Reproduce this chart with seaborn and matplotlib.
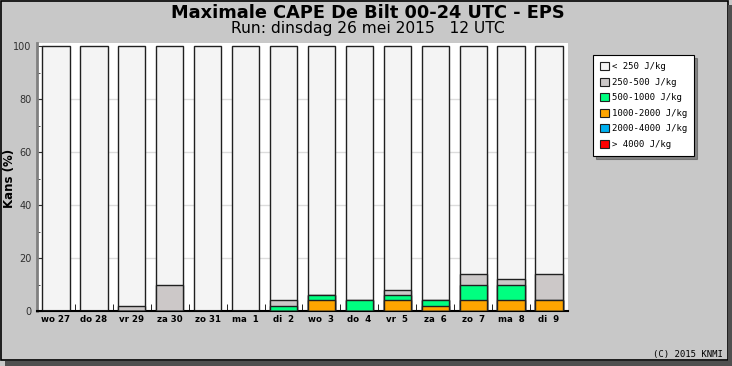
import numpy as np
import pandas as pd
import matplotlib
matplotlib.use('Agg')
import matplotlib.pyplot as plt
import seaborn as sns
from matplotlib.patches import Patch, Rectangle

# Chart data (kans in %, per dag)
days = ['wo 27', 'do 28', 'vr 29', 'za 30', 'zo 31', 'ma  1', 'di  2',
        'wo  3', 'do  4', 'vr  5', 'za  6', 'zo  7', 'ma  8', 'di  9']
cape_250_500 = [0, 0, 2, 10, 0, 0, 2, 0, 0, 2, 0, 4, 2, 10]
cape_500_1000 = [0, 0, 0, 0, 0, 0, 2, 2, 4, 2, 2, 6, 6, 0]
cape_1000_2000 = [0, 0, 0, 0, 0, 0, 0, 4, 0, 4, 2, 4, 4, 4]
cape_2000_4000 = [0] * 14
cape_4000 = [0] * 14
cape_lt250 = [100 - a - b - c - d - e for a, b, c, d, e in
              zip(cape_250_500, cape_500_1000, cape_1000_2000, cape_2000_4000, cape_4000)]

labels = ['< 250 J/kg', '250-500 J/kg', '500-1000 J/kg',
          '1000-2000 J/kg', '2000-4000 J/kg', '> 4000 J/kg']
colors = ['#f4f4f4', '#ccc8c8', '#00ff80', '#ffa500', '#00b0f0', '#ff0000']

# stacked: draw cumulative totals from top layer down
layers = [cape_lt250, cape_250_500, cape_500_1000, cape_1000_2000, cape_2000_4000, cape_4000]
df = pd.DataFrame({'dag': days})
for i in range(len(layers)):
    df[f'cum{i}'] = np.sum(np.array(layers[i:]), axis=0)

bg = '#c8c8c8'
fig = plt.figure(figsize=(7.32, 3.66), dpi=100, facecolor=bg)
ax = fig.add_axes([37 / 732, 1 - 311 / 366, 531 / 732, 268 / 366])
ax.set_facecolor('white')

for y in [20, 40, 60, 80]:
    ax.axhline(y, color='#dcdcdc', lw=1, zorder=0)

for i in range(len(layers)):
    sns.barplot(data=df, x='dag', y=f'cum{i}', color=colors[i], saturation=1,
                width=0.72, edgecolor='#202020', linewidth=1.0, errorbar=None,
                ax=ax, zorder=2 + i)

ax.set_xlim(-0.5, 13.5)
ax.set_ylim(0, 101.2)
ax.set_yticks([0, 20, 40, 60, 80, 100])
ax.set_yticks(range(10, 100, 20), minor=True)
ax.set_xticks(np.arange(0.5, 13, 1), minor=True)
ax.tick_params(axis='y', which='major', direction='in', length=4, labelsize=7,
               colors='#303030', pad=4)
ax.tick_params(axis='y', which='minor', direction='in', length=2, color='#303030')
ax.tick_params(axis='x', which='major', length=0, pad=3)
ax.tick_params(axis='x', which='minor', direction='in', length=5, color='black')
for lab in ax.get_xticklabels():
    lab.set_fontweight('bold')
    lab.set_fontsize(6.2)
ax.set_xlabel('')
ax.set_ylabel('')
fig.text(10 / 732, 1 - 178 / 366, 'Kans (%)', rotation=90, ha='center', va='center',
         fontsize=8.5, fontweight='bold')

for s in ['top', 'right']:
    ax.spines[s].set_visible(False)
ax.spines['left'].set_color('#808080')
ax.spines['left'].set_linewidth(2)
ax.spines['bottom'].set_color('black')
ax.spines['bottom'].set_linewidth(1.5)

fig.text(0.503, 0.965, 'Maximale CAPE De Bilt 00-24 UTC - EPS', ha='center', va='center',
         fontsize=12.8, fontweight='bold')
fig.text(0.503, 0.922, 'Run: dinsdag 26 mei 2015   12 UTC', ha='center', va='center',
         fontsize=11.2)
fig.text(723 / 732, 1 - 354 / 366, '(C) 2015 KNMI', ha='right', va='center', fontsize=6.5,
         family='DejaVu Sans Mono')

handles = [Patch(facecolor=c, edgecolor='#202020', lw=0.8) for c in colors]
leg = fig.legend(handles, labels, loc='upper left', bbox_to_anchor=(593 / 732, 1 - 55 / 366),
                 borderaxespad=0, frameon=True, fancybox=False, shadow={'color': '#404040'},
                 handlelength=0.95, handleheight=0.95, handletextpad=0.3,
                 labelspacing=0.72, borderpad=0.8, prop={'size': 6.5, 'family': 'DejaVu Sans Mono'})
leg.get_frame().set_edgecolor('black')
leg.get_frame().set_linewidth(0.8)

# figure border with shadow
fig.patches.append(Rectangle((0.0015, 1 - 360 / 366), 727 / 732, 359 / 366,
                             transform=fig.transFigure, fill=False, edgecolor='black', lw=1.2))
fig.patches.append(Rectangle((5 / 732, 0), 727 / 732, 5 / 366, transform=fig.transFigure,
                             facecolor='#505050', edgecolor='none'))
fig.patches.append(Rectangle((728 / 732, 0), 4 / 732, 361 / 366, transform=fig.transFigure,
                             facecolor='#505050', edgecolor='none'))

fig.savefig('out.png', dpi=100, facecolor=bg)
